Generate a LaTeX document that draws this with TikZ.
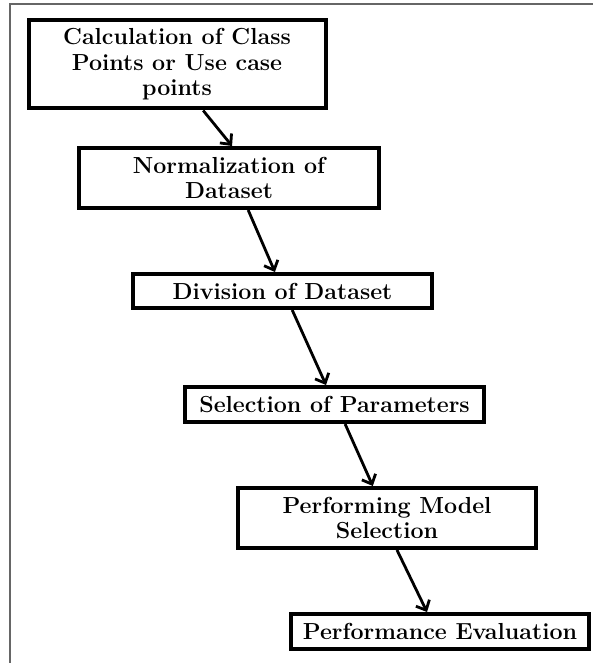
\documentclass[tikz,border=0pt]{standalone}
\usetikzlibrary{arrows.meta,calc}
\begin{document}
\begin{tikzpicture}[x=1pt,y=1pt,
  stepbox/.style={draw=black,line width=4pt,rectangle,inner sep=0pt,align=center,
    font=\fontsize{23.2}{25.5}\selectfont\bfseries},
  arr/.style={line width=2.8pt,-{Straight Barb[length=8pt,width=15pt,line width=2.8pt]}},
  frame/.style={draw=black!60,line width=1.5pt}]
\useasboundingbox (0,0) rectangle (593,-663);
\draw[frame] (10,-663) coordinate (fl) -- (10,-4) coordinate (fc) -- (593,-4) coordinate (fr);
\node[stepbox,minimum width=297pt,minimum height=88pt] (b1) at (177,-64.5)
  {Calculation of Class\\Points or Use case\\points};
\node[stepbox,minimum width=300pt,minimum height=60pt] (b2) at (229,-178)
  {Normalization of\\Dataset};
\node[stepbox,minimum width=299pt,minimum height=34pt] (b3) at (282.5,-291)
  {Division of Dataset};
\node[stepbox,minimum width=299pt,minimum height=35pt] (b4) at (334.5,-404.5)
  {Selection of Parameters};
\node[stepbox,minimum width=298pt,minimum height=60pt] (b5) at (387,-518)
  {Performing Model\\Selection};
\node[stepbox,minimum width=298pt,minimum height=35pt] (b6) at (440,-631.5)
  {Performance Evaluation};
\draw[arr] ($(b1.south west)!0.587!(b1.south east)$) -- ($(b2.north west)!0.51!(b2.north east)$);
\draw[arr] ($(b2.south west)!0.563!(b2.south east)$) -- ($(b3.north west)!0.475!(b3.north east)$);
\draw[arr] ($(b3.south west)!0.532!(b3.south east)$) -- ($(b4.north west)!0.472!(b4.north east)$);
\draw[arr] ($(b4.south west)!0.535!(b4.south east)$) -- ($(b5.north west)!0.453!(b5.north east)$);
\draw[arr] ($(b5.south west)!0.533!(b5.south east)$) -- ($(b6.north west)!0.457!(b6.north east)$);
\end{tikzpicture}
\end{document}
